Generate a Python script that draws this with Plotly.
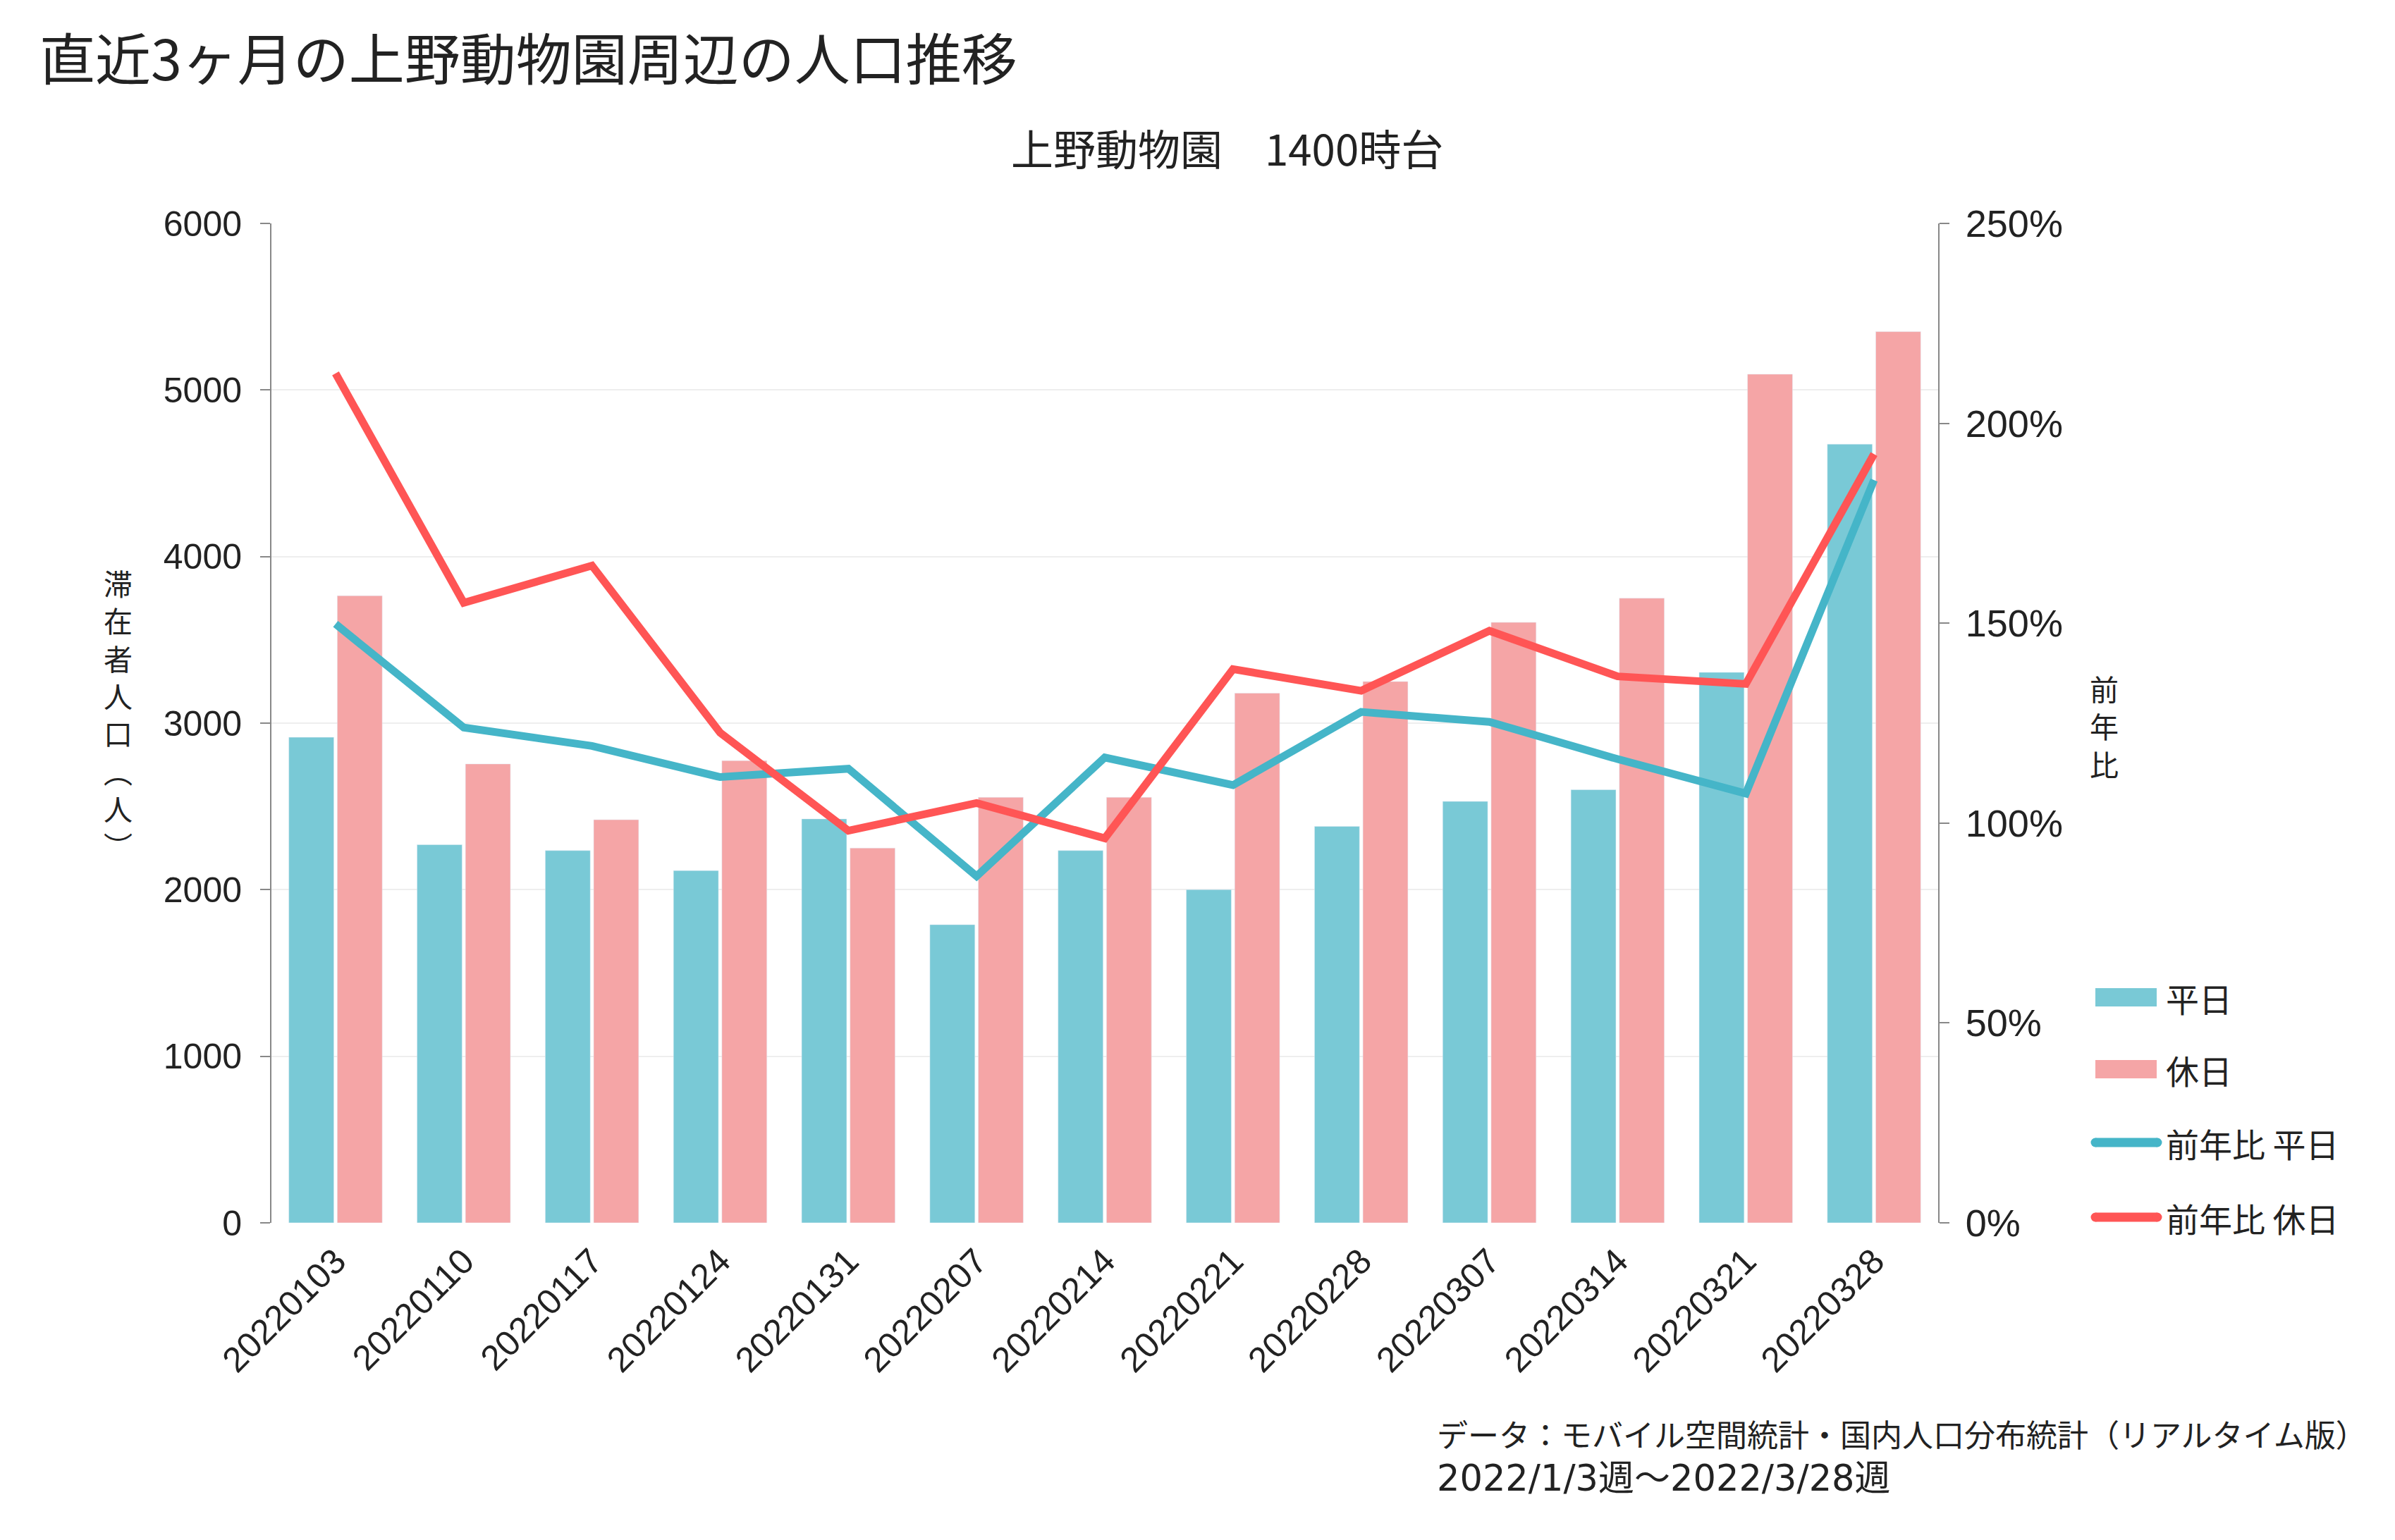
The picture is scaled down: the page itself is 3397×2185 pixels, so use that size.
import plotly.graph_objects as go

# ---- data ----
weeks = ["20220103", "20220110", "20220117", "20220124", "20220131", "20220207", "20220214",
         "20220221", "20220228", "20220307", "20220314", "20220321", "20220328"]
weekday = [2915, 2270, 2235, 2115, 2425, 1790, 2235, 2000, 2380, 2530, 2600, 3305, 4675]
holiday = [3765, 2755, 2420, 2775, 2250, 2555, 2555, 3180, 3250, 3605, 3750, 5095, 5350]
yoy_weekday = [149.8, 123.9, 119.3, 111.5, 113.6, 86.7, 116.4, 109.5, 127.8, 125.3, 116.0, 107.4, 185.8]
yoy_holiday = [212.5, 155.1, 164.4, 122.6, 98.1, 105.0, 96.2, 138.5, 133.1, 148.1, 136.7, 134.8, 192.3]

names = ["平日", "休日", "前年比 平日", "前年比 休日"]
left_ticks = [0, 1000, 2000, 3000, 4000, 5000, 6000]
right_ticks = [0, 50, 100, 150, 200, 250]
right_ticktext = ["0%", "50%", "100%", "150%", "200%", "250%"]

# ---- style ----
W, H = 3397, 2185
L, R, T, B = 385, 2749, 317, 1735
C_BAR_WD = "#79C9D6"
C_BAR_HD = "#F5A5A6"
C_LINE_WD = "#45B5C8"
C_LINE_HD = "#FF5555"
TXT = "#222222"
CJK = "Noto Sans CJK JP"
LAT = "Liberation Sans, Noto Sans CJK JP"


def px(x):
    return (x - L) / (R - L)


def py(y):
    return (B - y) / (B - T)


fig = go.Figure()
fig.add_trace(go.Bar(x=weeks, y=weekday, name=names[0], marker_color=C_BAR_WD, showlegend=False))
fig.add_trace(go.Bar(x=weeks, y=holiday, name=names[1], marker_color=C_BAR_HD, showlegend=False))
fig.add_trace(go.Scatter(x=weeks, y=yoy_weekday, name=names[2], mode="lines", yaxis="y2",
                         line=dict(color=C_LINE_WD, width=11), showlegend=False))
fig.add_trace(go.Scatter(x=weeks, y=yoy_holiday, name=names[3], mode="lines", yaxis="y2",
                         line=dict(color=C_LINE_HD, width=11), showlegend=False))

annotations = []
shapes = []

# title / subtitle
annotations.append(dict(text="直近3ヶ月の上野動物園周辺の人口推移", x=px(54), y=py(80), xref="paper", yref="paper",
                        xanchor="left", yanchor="middle", showarrow=False,
                        font=dict(family=CJK, size=79, color=TXT)))
annotations.append(dict(text="上野動物園　1400時台", x=px(1740), y=py(208), xref="paper", yref="paper",
                        xanchor="center", yanchor="middle", showarrow=False,
                        font=dict(family=CJK, size=60, color=TXT)))

# axis titles (vertical stacked)
annotations.append(dict(text="<br>".join(list("滞在者人口︵人︶")), x=px(167), y=py(1012), xref="paper", yref="paper",
                        xanchor="center", yanchor="middle", showarrow=False,
                        font=dict(family=CJK, size=41, color=TXT)))
annotations.append(dict(text="<br>".join(list("前年比")), x=px(2985), y=py(1029), xref="paper", yref="paper",
                        xanchor="center", yanchor="middle", showarrow=False,
                        font=dict(family=CJK, size=41, color=TXT)))

# footnote
annotations.append(dict(text="データ：モバイル空間統計・国内人口分布統計（リアルタイム版）", x=px(2036), y=py(2034),
                        xref="paper", yref="paper", xanchor="left", yanchor="middle", showarrow=False,
                        font=dict(family=CJK, size=44, color=TXT)))
annotations.append(dict(text="2022/1/3週～2022/3/28週", x=px(2036), y=py(2097),
                        xref="paper", yref="paper", xanchor="left", yanchor="middle", showarrow=False,
                        font=dict(family="DejaVu Sans, Noto Sans CJK JP", size=51, color=TXT)))

# manual legend
leg_y = [1415, 1517, 1621, 1727]
leg_colors = [C_BAR_WD, C_BAR_HD, C_LINE_WD, C_LINE_HD]
for i, (nm, yy, col) in enumerate(zip(names, leg_y, leg_colors)):
    if i < 2:
        shapes.append(dict(type="rect", xref="paper", yref="paper", x0=px(2972), x1=px(3059),
                           y0=py(yy + 13), y1=py(yy - 13), fillcolor=col, line=dict(width=0)))
    else:
        shapes.append(dict(type="line", xref="paper", yref="paper", x0=px(2972), x1=px(3060),
                           y0=py(yy), y1=py(yy), line=dict(color=col, width=13)))
        for xe in (2972, 3060):
            shapes.append(dict(type="circle", xref="paper", yref="paper", xsizemode="pixel", ysizemode="pixel",
                               xanchor=px(xe), yanchor=py(yy), x0=-6.5, x1=6.5, y0=-6.5, y1=6.5,
                               fillcolor=col, line=dict(width=0)))
    annotations.append(dict(text=nm, x=px(3070), y=py(yy), xref="paper", yref="paper",
                            xanchor="left", yanchor="middle", showarrow=False,
                            font=dict(family=CJK, size=47, color=TXT)))

fig.update_layout(
    width=W, height=H,
    margin=dict(l=L, r=W - R, t=T, b=H - B, autoexpand=False),
    paper_bgcolor="white", plot_bgcolor="white",
    barmode="group", bargap=0.245, bargroupgap=0.07,
    showlegend=False,
    font=dict(family=LAT, color=TXT, size=50),
    xaxis=dict(type="category", tickangle=-45, tickfont=dict(family=LAT, size=50, color=TXT),
               showgrid=False, showline=False, ticks="", zeroline=False, ticklabelstandoff=14),
    yaxis=dict(range=[0, 6000], tickvals=left_ticks, tickfont=dict(family=LAT, size=50, color=TXT),
               showgrid=True, gridcolor="#EEEEEE", gridwidth=2, zeroline=False,
               showline=True, linecolor="#888888", linewidth=2,
               ticks="outside", ticklen=14, tickwidth=2, tickcolor="#888888", ticklabelstandoff=16),
    yaxis2=dict(range=[0, 250], tickvals=right_ticks, ticktext=right_ticktext, overlaying="y", side="right",
                tickfont=dict(family=LAT, size=54, color=TXT),
                showgrid=False, zeroline=False, showline=True, linecolor="#888888", linewidth=2,
                ticks="outside", ticklen=14, tickwidth=2, tickcolor="#888888", ticklabelstandoff=12),
    annotations=annotations,
    shapes=shapes,
)

fig.write_html("out.html", config={"displayModeBar": False},
               post_script="document.body.style.margin='0';")
